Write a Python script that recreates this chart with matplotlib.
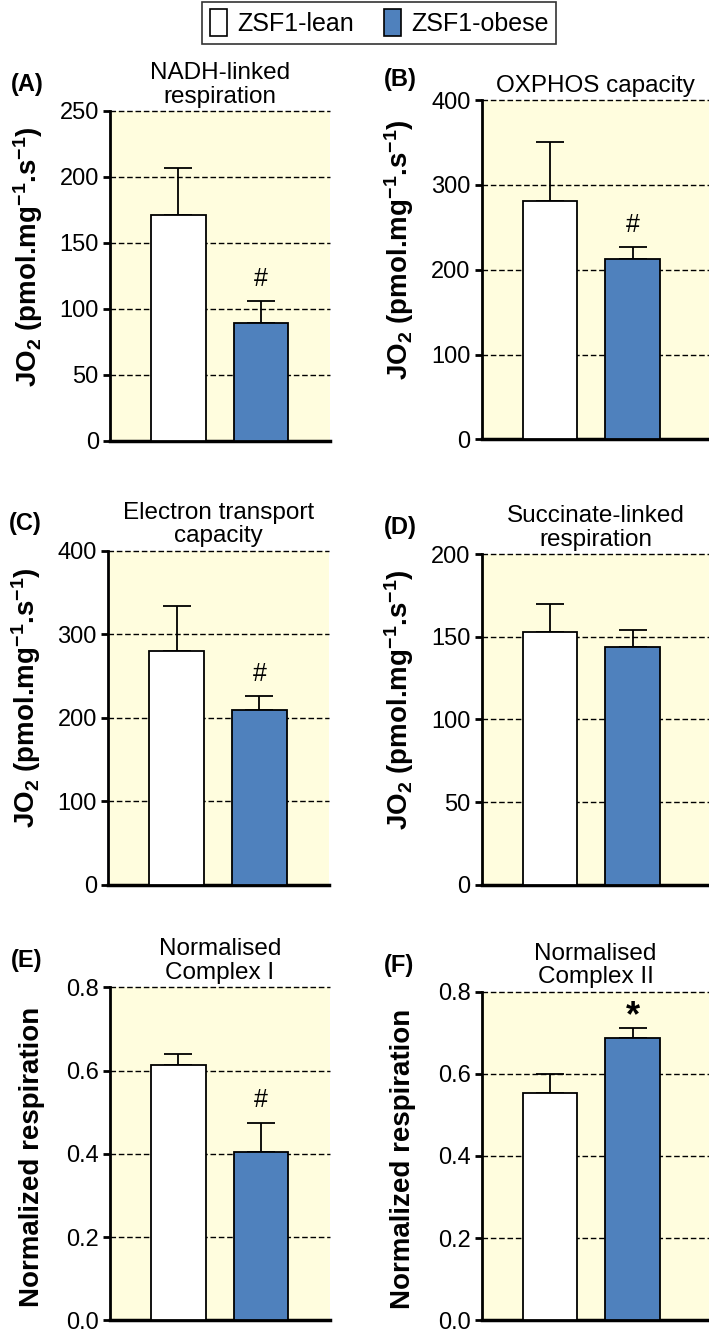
import matplotlib
matplotlib.use('Agg')
import matplotlib.pyplot as plt
from matplotlib.patches import Patch

plt.rcParams['font.family'] = ['Liberation Sans', 'DejaVu Sans']
plt.rcParams['mathtext.fontset'] = 'custom'
plt.rcParams['mathtext.rm'] = 'Liberation Sans'
plt.rcParams['mathtext.bf'] = 'Liberation Sans:bold'
plt.rcParams['mathtext.it'] = 'Liberation Sans:italic'

# data (mean, upper error bar)
groups = ['ZSF1-lean', 'ZSF1-obese']
panel_tags = ['(A)', '(B)', '(C)', '(D)', '(E)', '(F)']
titles = ['NADH-linked\nrespiration', 'OXPHOS capacity', 'Electron transport\ncapacity',
          'Succinate-linked\nrespiration', 'Normalised\nComplex I', 'Normalised\nComplex II']
lean_mean = [171, 281, 280, 153, 0.613, 0.553]
lean_err = [36, 70, 54, 17, 0.027, 0.046]
obese_mean = [89, 212, 209, 144, 0.405, 0.688]
obese_err = [17, 15, 17, 10, 0.070, 0.023]
marks = ['#', '#', '#', '', '#', '*']
ymax = [250, 400, 400, 200, 0.8, 0.8]
ystep = [50, 100, 100, 50, 0.2, 0.2]

jo2_label = r'JO$_\mathbf{2}$ (pmol.mg$^\mathbf{-1}$.s$^\mathbf{-1}$)'
norm_label = 'Normalized respiration'

bg = '#FFFDDE'
blue = '#4F81BD'

fig = plt.figure(figsize=(7.09, 13.37), dpi=100)

# axes rectangles in figure fraction
rects = [
    [0.1551, 0.6702, 0.3103, 0.2468],
    [0.6794, 0.6714, 0.3210, 0.2538],
    [0.1523, 0.3382, 0.3117, 0.2499],
    [0.6794, 0.3383, 0.3210, 0.2473],
    [0.1551, 0.0125, 0.3103, 0.2491],
    [0.6794, 0.0125, 0.3210, 0.2458],
]

for i in range(6):
    ax = fig.add_axes(rects[i])
    ax.set_facecolor(bg)
    x = [0, 1]
    ax.bar(x, [lean_mean[i], obese_mean[i]], width=0.66, color=['white', blue],
           edgecolor='black', linewidth=1.3, zorder=3)
    ax.errorbar(x, [lean_mean[i], obese_mean[i]],
                yerr=[[0, 0], [lean_err[i], obese_err[i]]],
                fmt='none', ecolor='black', elinewidth=1.3, capsize=10, capthick=1.3, zorder=2)
    ax.set_ylim(0, ymax[i])
    n = int(round(ymax[i] / ystep[i]))
    ticks = [ystep[i] * k for k in range(n + 1)]
    ax.set_yticks(ticks)
    if ymax[i] < 1:
        ax.set_yticklabels(['%.1f' % t for t in ticks])
    if i % 2 == 0:
        ax.set_xlim(-0.83, 1.84)
    else:
        ax.set_xlim(-0.83, 1.93)
    for t in ticks[1:]:
        ax.axhline(t, color='black', linestyle=(0, (4, 2)), linewidth=1.0, zorder=1, clip_on=False)
    ax.set_xticks([])
    for s in ['top', 'right']:
        ax.spines[s].set_visible(False)
    ax.spines['left'].set_linewidth(2)
    ax.spines['bottom'].set_linewidth(2.5)
    ax.tick_params(axis='y', direction='out', length=5, width=2, labelsize=17, pad=3)

    if marks[i]:
        top = obese_mean[i] + obese_err[i]
        if marks[i] == '*':
            ax.annotate('*', (1, top), xytext=(0, -4.5), textcoords='offset points',
                        ha='center', va='bottom', fontsize=26, fontweight='bold')
        else:
            ax.annotate('#', (1, top), xytext=(0, 16), textcoords='offset points',
                        ha='center', va='center', fontsize=18)

    ax.set_title(titles[i], fontsize=17.5, pad=6, linespacing=1.1)
    ax.text(-0.45 if i % 2 == 0 else -0.43, 1.0 + (0.08 if i != 1 else 0.06), panel_tags[i],
            transform=ax.transAxes, fontsize=17, fontweight='bold', ha='left', va='center')

    if i < 4:
        ax.set_ylabel(jo2_label, fontsize=20, fontweight='bold')
        ax.yaxis.set_label_coords(-0.295 if i % 2 == 0 else -0.29, 0.56)
    else:
        ax.set_ylabel(norm_label, fontsize=20, fontweight='bold')
        ax.yaxis.set_label_coords(-0.295 if i % 2 == 0 else -0.29, 0.49)

handles = [Patch(facecolor='white', edgecolor='black', linewidth=1.2),
           Patch(facecolor=blue, edgecolor='black', linewidth=1.2)]
leg = fig.legend(handles, groups, loc='center', bbox_to_anchor=(0.535, 0.983), ncol=2,
                 fontsize=18, frameon=True, fancybox=False, edgecolor='black',
                 handlelength=0.7, handleheight=1.3, handletextpad=0.4, columnspacing=1.2,
                 borderpad=0.3)
leg.get_frame().set_linewidth(1.2)

fig.savefig('out.png', dpi=100)
